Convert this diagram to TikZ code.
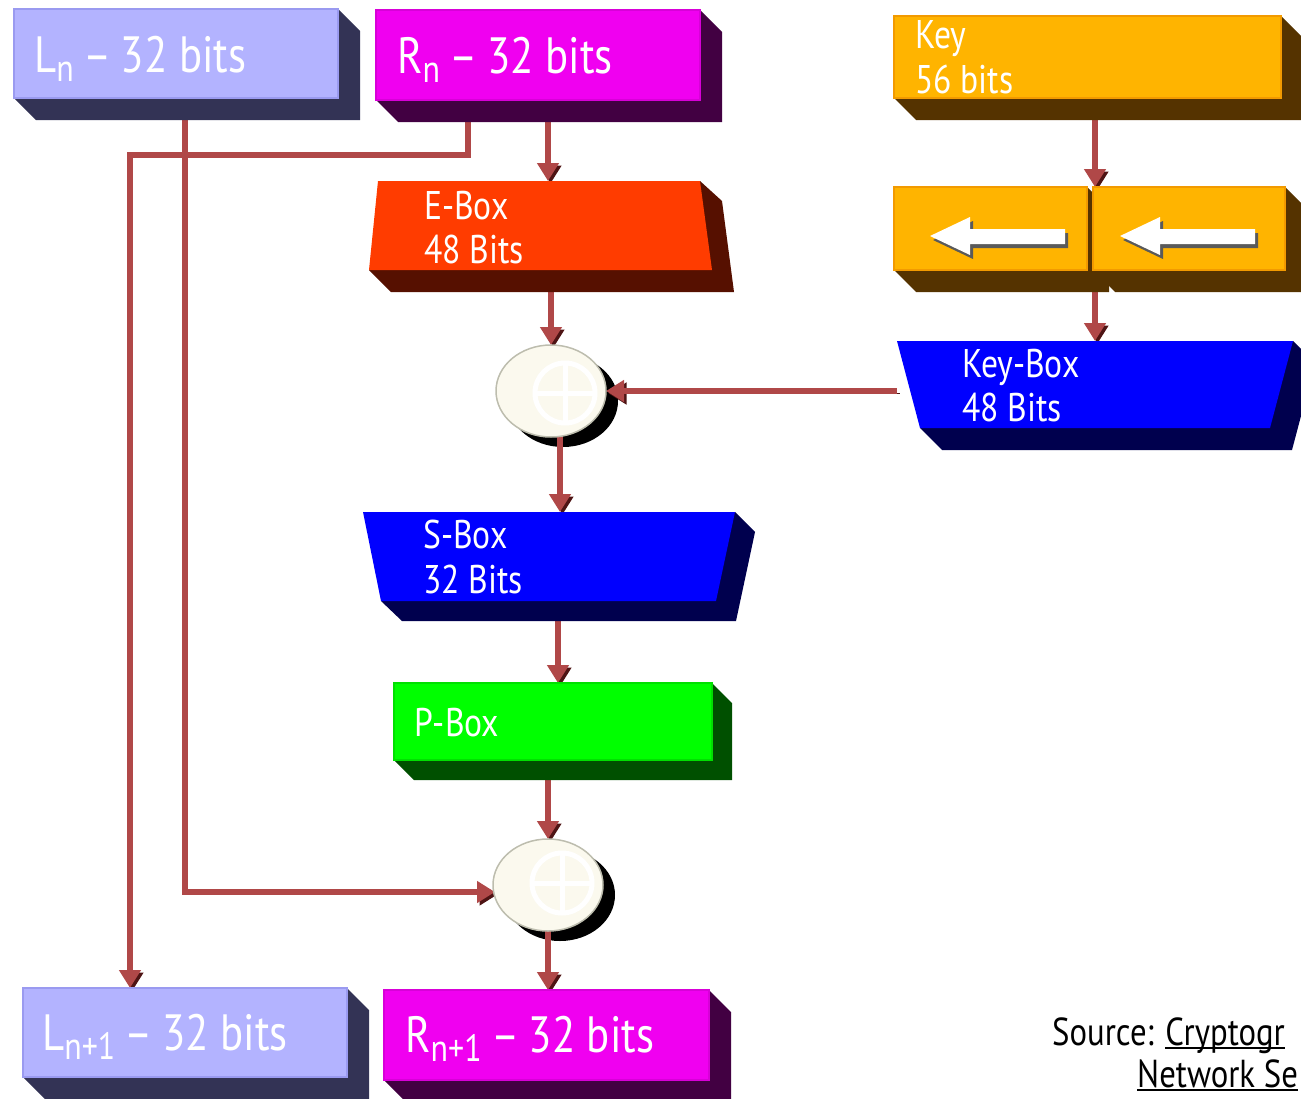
\documentclass[tikz,border=0pt]{standalone}
\usepackage{fontspec}
\setmainfont{PT Sans}[FakeStretch=0.84]
\usetikzlibrary{arrows.meta,calc,shapes.geometric}
\pgfdeclarelayer{xorshadow}
\pgfdeclarelayer{conns}
\pgfdeclarelayer{boxshadow}
\pgfsetlayers{xorshadow,conns,boxshadow,main}

\definecolor{lav}{HTML}{B3B3FF}
\definecolor{lavedge}{HTML}{9A9AF0}
\definecolor{lavshad}{HTML}{333355}
\definecolor{mag}{HTML}{F000F0}
\definecolor{magedge}{HTML}{D800D8}
\definecolor{magshad}{HTML}{420042}
\definecolor{keyc}{HTML}{FFB400}
\definecolor{keyedge}{HTML}{F29A00}
\definecolor{keyshad}{HTML}{553300}
\definecolor{ebc}{HTML}{FF3C00}
\definecolor{ebshad}{HTML}{561000}
\definecolor{blu}{HTML}{0000FF}
\definecolor{blushad}{HTML}{00004E}
\definecolor{grn}{HTML}{00FF00}
\definecolor{grnedge}{HTML}{00E000}
\definecolor{grnshad}{HTML}{005000}
\definecolor{arr}{HTML}{B04848}
\definecolor{arrdark}{HTML}{4E1414}
\definecolor{xorc}{HTML}{FBF9EE}
\definecolor{xoredge}{HTML}{BDBDAE}
\definecolor{wshad}{HTML}{5A5A5A}

\newcommand\subtxt[1]{\raisebox{-9pt}{\fontsize{38}{38}\selectfont #1}}
\newcommand\ulin[1]{\setbox0\hbox{#1}\rlap{\rule[-3.5pt]{\wd0}{1.8pt}}\box0}
\newcommand\dsh{\hspace{-2pt}–\hspace{-2pt}}
\newcommand\rshadow[3]{%
  \fill[#2] (#1.south west) -- ($(#1.south west)+(#3,#3)$) -- ($(#1.south east)+(#3,#3)$)
    -- ($(#1.north east)+(#3,#3)$) -- (#1.north east) -- cycle;}

\begin{document}
\begin{tikzpicture}[x=1pt,y=-1pt,
  face/.style={rectangle, inner sep=0pt, outer sep=0pt, line width=2pt},
  area/.style={rectangle, inner sep=0pt, outer sep=0pt},
  bigtxt/.style={text=white, font=\fontsize{51}{60}\selectfont, anchor=base west, inner sep=0pt},
  midtxt/.style={text=white, font=\fontsize{40}{45}\selectfont, anchor=base west, inner sep=0pt},
  srctxt/.style={text=black, font=\fontsize{39}{45}\selectfont, anchor=base west, inner sep=0pt},
  xorface/.style={ellipse, minimum width=110pt, minimum height=92pt, inner sep=0pt, outer sep=0pt,
    fill=xorc, draw=xoredge, line width=1.5pt},
  xorshad/.style={ellipse, minimum width=110pt, minimum height=92pt, inner sep=0pt, fill=black},
  conn/.style={draw=arr, line width=6pt, -{Triangle[width=21pt,length=18pt]},
    preaction={draw=arrdark, transform canvas={shift={(2.5,2.5)}}}}
]
\useasboundingbox (0,0) rectangle (1301,1098);

% ---------- rectangular boxes ----------
\node[face, fill=lav, draw=lavedge, minimum width=324pt, minimum height=89pt] (ln) at (176,53.5) {};
\node[face, fill=mag, draw=magedge, minimum width=324pt, minimum height=90pt] (rn) at (538,55) {};
\node[face, fill=keyc, draw=keyedge, minimum width=387pt, minimum height=82pt] (key) at (1087.5,57) {};
\node[face, fill=keyc, draw=keyedge, minimum width=193pt, minimum height=83pt] (shl) at (990.5,228.5) {};
\node[face, fill=keyc, draw=keyedge, minimum width=192pt, minimum height=83pt] (shr) at (1189,228.5) {};
\node[face, fill=grn, draw=grnedge, minimum width=318pt, minimum height=77pt] (pbox) at (553,721.5) {};
\node[face, fill=lav, draw=lavedge, minimum width=324pt, minimum height=89pt] (lnn) at (185,1032.5) {};
\node[face, fill=mag, draw=magedge, minimum width=325pt, minimum height=90pt] (rnn) at (546.5,1035) {};

\begin{pgfonlayer}{boxshadow}
  \rshadow{ln}{lavshad}{22}
  \rshadow{rn}{magshad}{22}
  \rshadow{key}{keyshad}{22}
  \rshadow{shl}{keyshad}{22}
  \rshadow{shr}{keyshad}{22}
  \rshadow{pbox}{grnshad}{20}
  \rshadow{lnn}{lavshad}{22}
  \rshadow{rnn}{magshad}{22}
  % trapezoid shadows
  \fill[ebshad] (369,270) -- (391,292) -- (734,292) -- (722,201) -- (700,181) -- cycle;
  \fill[blushad] (920,428) -- (942,450) -- (1292,450) -- (1315,363) -- (1293,341) -- cycle;
  \fill[blushad] (381,601) -- (402,621) -- (736,621) -- (755,532) -- (735,512) -- cycle;
\end{pgfonlayer}

% ---------- trapezoid boxes ----------
\fill[ebc] (378,181) -- (700,181) -- (712,270) -- (369,270) -- cycle;
\node[area, minimum width=343pt, minimum height=89pt] (ebox) at (540.5,225.5) {};
\fill[blu] (897,341) -- (1293,341) -- (1270,428) -- (920,428) -- cycle;
\node[area, minimum width=396pt, minimum height=87pt] (kbox) at (1095,384.5) {};
\fill[blu] (363,512) -- (735,512) -- (716,601) -- (381,601) -- cycle;
\node[area, minimum width=372pt, minimum height=89pt] (sbox) at (549,556.5) {};

% ---------- shift arrows ----------
\foreach \dx in {0,190}{
  \fill[wshad] ($(930+\dx,236)+(3,4)$) -- ($(970+\dx,217)+(3,4)$) -- ($(970+\dx,229)+(3,4)$)
    -- ($(1065+\dx,229)+(3,4)$) -- ($(1065+\dx,244)+(3,4)$) -- ($(970+\dx,244)+(3,4)$)
    -- ($(970+\dx,255)+(3,4)$) -- cycle;
  \fill[white] (930+\dx,236) -- (970+\dx,217) -- (970+\dx,229) -- (1065+\dx,229)
    -- (1065+\dx,244) -- (970+\dx,244) -- (970+\dx,255) -- cycle;
}

% ---------- XOR nodes ----------
\node[xorface] (x1) at (551,391) {};
\node[xorface] (x2) at (548,885) {};
\foreach \n/\ox/\oy in {x1/14/2, x2/14/-2}{
  \draw[white, line width=5pt] ($(\n)+(\ox,\oy)$) circle [radius=30];
  \draw[white, line width=5pt] ($(\n)+(\ox-30,\oy)$) -- ($(\n)+(\ox+30,\oy)$);
  \draw[white, line width=5pt] ($(\n)+(\ox,\oy-30)$) -- ($(\n)+(\ox,\oy+30)$);
}
\begin{pgfonlayer}{xorshadow}
  \node[xorshad] (x1s) at ($(x1)+(12,10)$) {};
  \node[xorshad] (x2s) at ($(x2)+(12,10)$) {};
\end{pgfonlayer}

% ---------- connectors ----------
\begin{pgfonlayer}{conns}
  \draw[conn] (468,0 |- rn.south) -- (468,155) -- (130,155) -- (130,0 |- lnn.north);
  \draw[conn] (185,0 |- ln.south) |- ($(x2.west)+(2,7)$);
  \draw[conn] (548,0 |- rn.south) -- (548,0 |- ebox.north);
  \draw[conn] (x1.north |- ebox.south) -- (x1.north);
  \draw[conn] (kbox.west |- x1.east) -- (x1.east);
  \draw[conn] ($(x1.center)+(9,0)$) -- (560,0 |- sbox.north);
  \draw[conn] (558,0 |- sbox.south) -- (558,0 |- pbox.north);
  \draw[conn] (x2.north |- pbox.south) -- (x2.north);
  \draw[conn] (x2.center) -- (x2.center |- rnn.north);
  \draw[conn] (1095,0 |- key.south) -- (1095,0 |- shl.north);
  \draw[conn] (1095,0 |- shl.south) -- (1095,0 |- kbox.north);
\end{pgfonlayer}

% ---------- texts ----------
\node[bigtxt] (lnt) at (34,72) {L\subtxt{n} \dsh{} 32 bits};
\node[bigtxt] (rnt) at (397,73) {R\subtxt{n} \dsh{} 32 bits};
\node[midtxt] (keyt1) at (915,48) {Key};
\node[midtxt] (keyt2) at (915,93) {56 bits};
\node[midtxt] (ebt1) at (424,219) {E-Box};
\node[midtxt] (ebt2) at (424,263) {48 Bits};
\node[midtxt] (kbt1) at (962,377) {Key-Box};
\node[midtxt] (kbt2) at (962,421) {48 Bits};
\node[midtxt] (sbt1) at (423,548) {S-Box};
\node[midtxt] (sbt2) at (423,593) {32 Bits};
\node[midtxt] (pbt) at (414,736) {P-Box};
\node[bigtxt] (lnnt) at (42,1050) {L\subtxt{n+1} \dsh{} 32 bits};
\node[bigtxt] (rnnt) at (405,1052) {R\subtxt{n+1} \dsh{} 32 bits};
\node[srctxt] (src1) at (1052,1045) {Source: \ulin{Cryptogr}};
\node[srctxt] (src2) at (1137,1087) {\ulin{Network Se}};
\end{tikzpicture}
\end{document}
